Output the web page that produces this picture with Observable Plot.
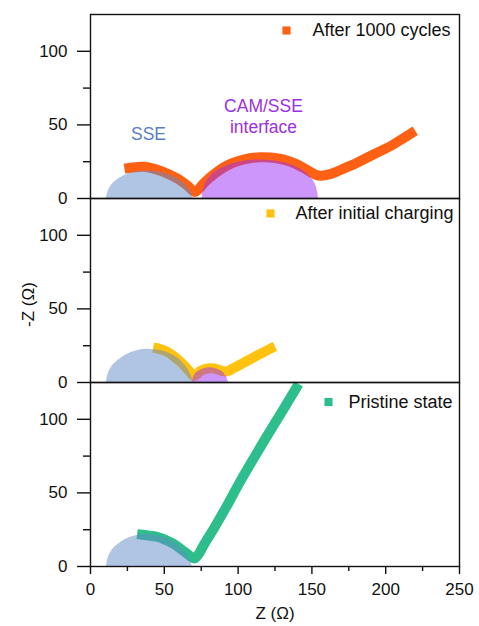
<!DOCTYPE html>
<html>
<head>
<meta charset="utf-8">
<script src="https://cdn.jsdelivr.net/npm/d3@7"></script>
<script src="https://cdn.jsdelivr.net/npm/@observablehq/plot@0.6"></script>
<style>
  body { margin: 0; background: #fff; }
  #chart { width: 479px; height: 626px; }
</style>
</head>
<body>
<div id="chart"></div>
<script>
// ---- panels / legend ----
const panels = ["c1000", "initial", "pristine"];
const legendLabels = ["After 1000 cycles", "After initial charging", "Pristine state"];
const seriesColors = ["#FF6114", "#FFC20E", "#2DBE8C"];

// ---- ticks ----
const yMajorTicks = [0, 50, 100];
const yMinorTicks = [25, 75];
const xMajorTicks = [0, 50, 100, 150, 200, 250];
const xMinorTicks = [25, 75, 125, 175, 225];

// ---- Nyquist data: Z (real) and -Z (imag), ohm ----
const cyclesZ   = [23, 30, 36, 42, 48, 53, 58, 62, 66, 69, 71, 73, 76, 80, 85, 90, 96, 102, 108, 115, 122, 128, 134, 139, 144, 149, 153, 156, 160, 165, 172, 180, 188, 196, 204, 212, 220];
const cyclesZim = [20.3, 21.3, 21.5, 20.5, 18.6, 16.5, 14, 11.5, 8.5, 5.5, 4.5, 6, 9.5, 13.5, 17.5, 21, 24, 26, 27.3, 28, 27.8, 27, 25.5, 23.5, 21, 18, 16, 15.5, 16, 17.5, 20.5, 24, 28, 32, 36, 41, 46];

const initialZ   = [42.5, 47, 52, 56.5, 61, 64.5, 67.5, 70, 72, 74.5, 78, 82, 86, 89.5, 92.5, 97, 103, 109, 115, 121, 125];
const initialZim = [23.8, 22.8, 20.8, 17.8, 14, 10.5, 7, 4.5, 5.5, 7.8, 9.3, 9.6, 9, 7.8, 7.5, 9.8, 13, 16.2, 19.4, 22.5, 24.4];

const pristineZ   = [31.6, 38, 45, 51, 56.5, 61, 65.5, 68.5, 70.5, 73, 77, 84, 92, 101, 110, 118, 125, 132, 138, 141];
const pristineZim = [22, 21.2, 20.2, 18, 15.3, 12, 8.7, 6.3, 5.5, 8, 15, 26.5, 40.5, 57, 72.5, 86, 97.5, 109, 119, 124];

// ---- shaded semicircles (outline) ----
const sseC1000Z   = [10.8, 12, 15, 20, 28, 38, 48, 56, 62, 66, 68.5, 69.5];
const sseC1000Zim = [0, 5, 10, 14, 17.3, 18.6, 17.6, 15, 11.5, 7.5, 3.5, 0];
const camC1000Z   = [75.6, 76.5, 79, 84, 92, 102, 115, 128, 138, 146, 151, 153.5, 154.5];
const camC1000Zim = [0, 6, 12, 17.5, 22, 25, 26.2, 25, 22, 17.5, 12, 6, 0];

const sseInitZ   = [10.8, 12, 15, 20, 28, 38, 48, 56, 62, 66, 68.5, 69.3];
const sseInitZim = [0, 6, 11.5, 16, 20.5, 22.6, 21.5, 18.5, 14, 9, 4, 0];
const camInitZ   = [69, 70, 73, 77, 81, 85, 89, 92, 93.5];
const camInitZim = [0, 4, 7.5, 9.4, 10, 9.4, 7.5, 4, 0];

const ssePrisZ   = [10.8, 12, 15, 20, 27, 36, 45, 53, 60, 65, 67.8, 68.9];
const ssePrisZim = [0, 6, 11.5, 16, 19.8, 21.8, 21, 18.5, 14, 9, 4, 0];

// ---- annotations ----
const sseLabel = ["SSE"];
const sseLabelZ = [39.3], sseLabelZim = [43.4];
const camLabels = ["CAM/SSE", "interface"];
const camLabelZ = [117.2, 117.2], camLabelZim = [62.4, 48.1];

// ---- build tables ----
const toRows = (panel, zs, ims) => zs.map((z, i) => ({panel, z, zim: ims[i]}));
const lineRows = [
  ...toRows("c1000", cyclesZ, cyclesZim),
  ...toRows("initial", initialZ, initialZim),
  ...toRows("pristine", pristineZ, pristineZim)
];
const sseRows = [
  ...toRows("c1000", sseC1000Z, sseC1000Zim),
  ...toRows("initial", sseInitZ, sseInitZim),
  ...toRows("pristine", ssePrisZ, ssePrisZim)
];
const camRows = [
  ...toRows("c1000", camC1000Z, camC1000Zim),
  ...toRows("initial", camInitZ, camInitZim)
];
const sseText = sseLabel.map((t, i) => ({panel: "c1000", t, z: sseLabelZ[i], zim: sseLabelZim[i]}));
const camText = camLabels.map((t, i) => ({panel: "c1000", t, z: camLabelZ[i], zim: camLabelZim[i]}));

// legend placement (pixel offsets from each panel's top-right corner)
const legendLayout = [
  {sx: -173, tx: -147, dy: 16},
  {sx: -189, tx: -164, dy: 15},
  {sx: -131, tx: -111, dy: 19.5}
];

const legendMarks = panels.flatMap((p, i) => [
  Plot.dot([legendLabels[i]], {fy: () => p, frameAnchor: "top-right", dx: legendLayout[i].sx, dy: legendLayout[i].dy,
    symbol: "square", r: 4.6, fill: seriesColors[i]}),
  Plot.text([legendLabels[i]], {fy: () => p, frameAnchor: "top-right", text: d => d, textAnchor: "start", lineAnchor: "middle",
    dx: legendLayout[i].tx, dy: legendLayout[i].dy, fontSize: 18, fill: "#111"})
]);

const chart = Plot.plot({
  width: 479,
  height: 626,
  marginLeft: 90,
  marginRight: 20,
  marginTop: 13,
  marginBottom: 60,
  style: {fontFamily: "'Liberation Sans', Arial, Helvetica, sans-serif", fontSize: "17px", color: "#111", background: "#fff"},
  x: {domain: [0, 250], label: null},
  y: {domain: [0, 125], label: null},
  fy: {domain: panels, axis: null, padding: 0, label: null},
  color: {domain: panels, range: seriesColors},
  marks: [
    Plot.line(lineRows, {x: "z", y: "zim", fy: "panel", z: "panel", stroke: "panel", strokeWidth: 10,
      strokeLinecap: "butt", strokeLinejoin: "round", curve: "catmull-rom"}),
    Plot.areaY(sseRows, {x: "z", y: "zim", fy: "panel", z: "panel", fill: "#6189C9", fillOpacity: 0.5, curve: "catmull-rom"}),
    Plot.areaY(camRows, {x: "z", y: "zim", fy: "panel", z: "panel", fill: "#9B2DF5", fillOpacity: 0.5, curve: "catmull-rom"}),
    Plot.text(sseText, {x: "z", y: "zim", fy: "panel", text: "t", fill: "#5A7EC0", fontSize: 17.5, lineAnchor: "middle"}),
    Plot.text(camText, {x: "z", y: "zim", fy: "panel", text: "t", fill: "#9C30E0", fontSize: 17.5, lineAnchor: "middle"}),
    ...legendMarks,
    Plot.frame({stroke: "#111", strokeWidth: 1.4}),
    Plot.axisY({ticks: yMajorTicks, tickSize: 13, tickPadding: 10, label: null, strokeWidth: 1.4}),
    Plot.axisY({ticks: yMinorTicks, tickSize: 7, tickFormat: () => "", label: null, strokeWidth: 1.4}),
    Plot.axisX({ticks: xMajorTicks, tickSize: 8, tickPadding: 8, label: null, strokeWidth: 1.4}),
    Plot.axisX({ticks: xMinorTicks, tickSize: 5, tickFormat: () => "", label: null, strokeWidth: 1.4}),
    Plot.text(["-Z (Ω)"], {fy: () => "initial", frameAnchor: "left", text: d => d, rotate: -90, textAnchor: "middle",
      lineAnchor: "middle", dx: -62, dy: 14, fontSize: 17, fill: "#111"}),
    Plot.text(["Z (Ω)"], {fy: () => "pristine", frameAnchor: "bottom", text: d => d, textAnchor: "middle",
      lineAnchor: "middle", dy: 47, fontSize: 17, fill: "#111"})
  ]
});
document.getElementById("chart").append(chart);
</script>
</body>
</html>
